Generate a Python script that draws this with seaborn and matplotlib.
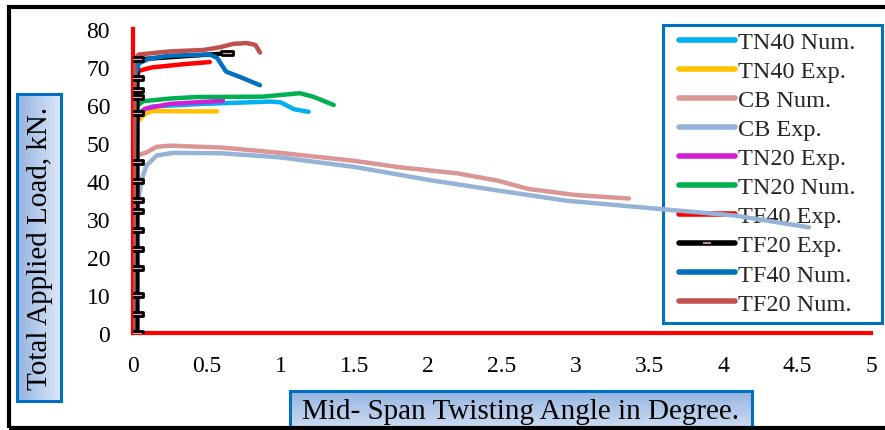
import numpy as np
import pandas as pd
import matplotlib
matplotlib.use("Agg")
import matplotlib.pyplot as plt
from matplotlib.lines import Line2D
from matplotlib.patches import Rectangle
import seaborn as sns

# ---------------- data ----------------
tn40_num_x = [0, 0.03, 0.06, 0.13, 0.48, 0.93, 1.00, 1.09, 1.19]
tn40_num_y = [0, 56.0, 58.5, 59.6, 60.3, 60.9, 60.7, 58.9, 58.2]

tn40_exp_x = [0.02, 0.04, 0.08, 0.13, 0.57]
tn40_exp_y = [55.0, 56.0, 57.6, 58.4, 58.3]

cb_num_x = [0, 0.01, 0.09, 0.16, 0.25, 0.60, 1.00, 1.50, 1.81, 2.20, 2.47, 2.68, 3.00, 3.36]
cb_num_y = [0, 46.5, 47.5, 49.0, 49.3, 48.8, 47.4, 45.3, 43.6, 42.0, 40.1, 37.9, 36.3, 35.4]

cb_exp_x = [0, 0.01, 0.02, 0.04, 0.06, 0.09, 0.16, 0.27, 0.60, 1.00, 1.50, 1.81, 2.00, 2.49, 2.94, 3.58, 4.08, 4.58]
cb_exp_y = [0, 20.0, 29.0, 36.0, 40.5, 44.0, 46.7, 47.4, 47.3, 46.2, 43.7, 41.6, 40.3, 37.4, 34.8, 32.6, 30.9, 27.8]

tn20_exp_x = [0, 0.01, 0.04, 0.08, 0.25, 0.61]
tn20_exp_y = [0, 54.5, 57.2, 59.0, 60.3, 61.1]

tn20_num_x = [0, 0.02, 0.07, 0.25, 0.43, 0.88, 1.13, 1.22, 1.36]
tn20_num_y = [0, 59.6, 61.0, 61.7, 62.1, 62.2, 63.1, 62.2, 60.0]

tf40_exp_x = [0, 0.0, 0.02, 0.04, 0.13, 0.36, 0.52]
tf40_exp_y = [0, 60.0, 67.0, 69.0, 69.9, 70.8, 71.3]

tf20_exp_x = [0.03] * 15 + [0.64]
tf20_exp_y = [0, 5, 10, 17, 22, 27, 32, 35, 40, 45, 58, 62, 64, 67, 72, 73.6]

tf40_num_x = [0, 0.01, 0.04, 0.11, 0.25, 0.52, 0.57, 0.63, 0.73, 0.86]
tf40_num_y = [0, 67.0, 71.0, 72.2, 73.0, 73.3, 72.4, 68.8, 67.3, 65.2]

tf20_num_x = [0, 0.01, 0.04, 0.25, 0.48, 0.59, 0.68, 0.77, 0.83, 0.86]
tf20_num_y = [0, 72.0, 73.3, 74.1, 74.5, 75.2, 76.1, 76.3, 75.8, 73.8]

series_names = ["TN40 Num.", "TN40 Exp.", "CB Num.", "CB Exp.", "TN20 Exp.",
                "TN20 Num.", "TF40 Exp.", "TF20 Exp.", "TF40 Num.", "TF20 Num."]
series_xy = [(tn40_num_x, tn40_num_y), (tn40_exp_x, tn40_exp_y), (cb_num_x, cb_num_y),
             (cb_exp_x, cb_exp_y), (tn20_exp_x, tn20_exp_y), (tn20_num_x, tn20_num_y),
             (tf40_exp_x, tf40_exp_y), (tf20_exp_x, tf20_exp_y), (tf40_num_x, tf40_num_y),
             (tf20_num_x, tf20_num_y)]
series_colors = ["#00B0F0", "#FFC000", "#D99694", "#95B3D7", "#D21FD2",
                 "#00B050", "#FF0000", "#000000", "#0070C0", "#C0504D"]

x_ticks = [0, 0.5, 1, 1.5, 2, 2.5, 3, 3.5, 4, 4.5, 5]
x_tick_labels = ["0", "0.5", "1", "1.5", "2", "2.5", "3", "3.5", "4", "4.5", "5"]
y_ticks = [0, 10, 20, 30, 40, 50, 60, 70, 80]

# ---------------- build dataframe ----------------
rows = []
for name, (xs, ys) in zip(series_names, series_xy):
    for i, (xv, yv) in enumerate(zip(xs, ys)):
        rows.append({"series": name, "order": i, "angle": xv, "load": yv})
df = pd.DataFrame(rows)

sns.set_theme(style="white")
plt.rcParams["font.family"] = ["Liberation Serif", "DejaVu Serif"]

W, H = 885, 431
fig = plt.figure(figsize=(W / 100, H / 100), dpi=100)
fig.patch.set_facecolor("white")

def fx(px):
    return px / W

def fy(py):
    return 1 - py / H

ax = fig.add_axes([fx(133), fy(334), fx(871) - fx(133), fy(30) - fy(334)])
ax.set_facecolor("white")

# legend box (drawn under the lines, as in the reference)
ax.add_patch(Rectangle((fx(663), fy(324)), fx(882) - fx(663), fy(26) - fy(324),
                       transform=fig.transFigure, facecolor="white",
                       edgecolor="#0070C0", linewidth=2.2, zorder=1.5,
                       clip_on=False))

palette = dict(zip(series_names, series_colors))
sns.lineplot(data=df, x="angle", y="load", hue="series", hue_order=series_names,
             palette=palette, sort=False, estimator=None, units="series",
             linewidth=3.2, ax=ax, legend=False, zorder=3)

# TF20 Exp. markers (black box with pink centre)
rect = [(-1, -0.38), (1, -0.38), (1, 0.38), (-1, 0.38), (-1, -0.38)]
tf = df[df["series"] == "TF20 Exp."]
sns.scatterplot(data=tf, x="angle", y="load", marker=rect, s=85, color="#E6A6A6",
                edgecolor="black", linewidth=2.0, ax=ax, zorder=4, legend=False)

ax.set_xlim(0, 5)
ax.set_ylim(0, 80)
ax.set_xticks(x_ticks)
ax.set_xticklabels(x_tick_labels)
ax.set_yticks(y_ticks)
ax.set_xlabel("")
ax.set_ylabel("")
for side in ["top", "right"]:
    ax.spines[side].set_visible(False)
for side in ["left", "bottom"]:
    ax.spines[side].set_color("#FF0000")
    ax.spines[side].set_linewidth(3)
    ax.spines[side].set_zorder(2.5)
ax.tick_params(axis="both", which="major", direction="out", colors="#FF0000",
               length=4.5, width=3.5, labelsize=17, labelcolor="black")
ax.tick_params(axis="y", pad=12)
ax.tick_params(axis="x", pad=11)
ax.grid(False)

# legend entries
handles = []
for name, col in zip(series_names, series_colors):
    if name == "TF20 Exp.":
        h = Line2D([], [], color=col, linewidth=4, marker="_", markersize=6,
                   markeredgecolor="#E6A6A6", markeredgewidth=1.2)
    else:
        h = Line2D([], [], color=col, linewidth=4)
    handles.append(h)
leg = ax.legend(handles, series_names, loc="upper left",
                bbox_to_anchor=(fx(679), fy(32)), bbox_transform=fig.transFigure,
                fontsize=17.5, frameon=False, handlelength=2.3,
                handletextpad=0.12, labelspacing=0.29, borderpad=0,
                borderaxespad=0)
leg.set_zorder(2)

# gradient label boxes
def grad_box(left_px, top_px, right_px, bottom_px, horizontal):
    bax = fig.add_axes([fx(left_px), fy(bottom_px), fx(right_px) - fx(left_px),
                        fy(top_px) - fy(bottom_px)])
    c1 = np.array([0.58, 0.70, 0.88])
    c2 = np.array([0.87, 0.91, 0.97])
    t = np.linspace(0, 1, 256)
    cols = c1[None, :] * (1 - t[:, None]) + c2[None, :] * t[:, None]
    if horizontal:
        img = cols[None, :, :]
    else:
        img = cols[:, None, :]
    bax.imshow(img, aspect="auto", extent=[0, 1, 0, 1], origin="upper")
    bax.set_xlim(0, 1)
    bax.set_ylim(0, 1)
    bax.set_xticks([])
    bax.set_yticks([])
    for s in bax.spines.values():
        s.set_color("#0070C0")
        s.set_linewidth(2.2)
    return bax

ybox = grad_box(17, 95, 61, 402, True)
ybox.text(0.52, 0.5, "Total Applied Load, kN.", transform=ybox.transAxes,
          ha="center", va="center", rotation=90, fontsize=21, color="black")
xbox = grad_box(290, 392, 752, 440, False)
xbox.text(0.5, 0.58, "Mid- Span Twisting Angle in Degree.", transform=xbox.transAxes,
          ha="center", va="center", fontsize=21, color="black")

# outer black frame
fig.patches.append(Rectangle((fx(9), fy(429)), 1.2, fy(8) - fy(429),
                             transform=fig.transFigure, fill=False,
                             edgecolor="black", linewidth=3, zorder=10))

fig.savefig("out.png", dpi=100, facecolor="white")
